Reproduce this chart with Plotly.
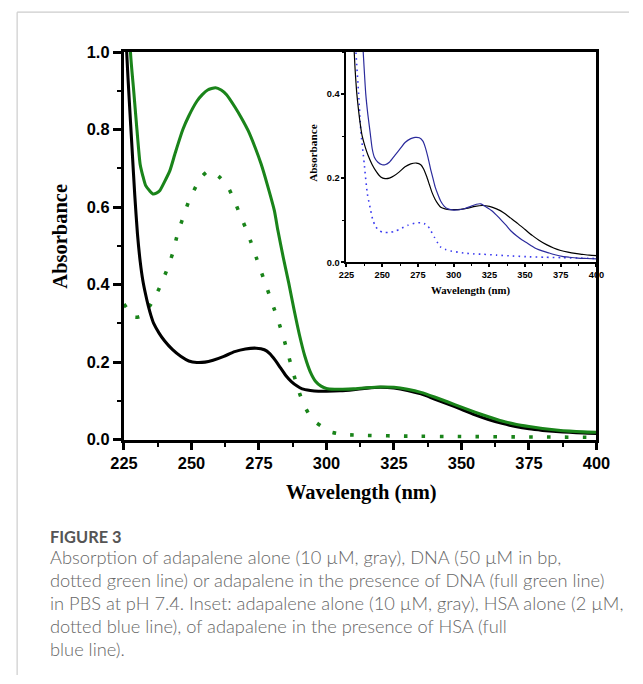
import plotly.graph_objects as go

# ---------------- data ----------------
# adapalene alone (black) - used in main chart and inset
ada_nm = [225, 226, 227, 228, 229, 230, 231, 232, 233, 234, 235, 236, 238, 240, 243, 246, 249, 252,
          255, 258, 262, 266, 270, 274, 277, 279, 281, 283, 285, 287, 289, 291, 294, 297, 300, 305,
          310, 315, 320, 325, 330, 335, 340, 345, 350, 355, 360, 365, 370, 375, 380, 385, 390, 395, 400]
ada_abs = [1.25, 1.0, 0.87, 0.75, 0.63, 0.53, 0.46, 0.41, 0.375, 0.345, 0.32, 0.30, 0.275, 0.255,
           0.232, 0.215, 0.203, 0.199, 0.2, 0.205, 0.215, 0.227, 0.234, 0.236, 0.232, 0.222, 0.205,
           0.185, 0.165, 0.15, 0.139, 0.131, 0.127, 0.125, 0.125, 0.126, 0.129, 0.133, 0.135, 0.133,
           0.127, 0.118, 0.105, 0.092, 0.078, 0.064, 0.052, 0.042, 0.034, 0.028, 0.024, 0.021, 0.019,
           0.017, 0.016]

# adapalene + DNA (full green)
adadna_nm = [225, 227.4, 228.6, 229.8, 231, 232, 233, 234.5, 235.7, 237, 238.3, 240, 242, 244, 246.8,
             249, 252, 254, 256, 258.9, 261, 263, 266.2, 268.5, 271, 273.5, 275.8, 278, 280.7, 282,
             284, 286, 288, 290, 292, 294, 296, 298, 300, 303, 306, 310, 315, 320, 325, 330, 335, 340,
             345, 350, 355, 360, 365, 370, 375, 380, 385, 390, 395, 400]
adadna_abs = [1.6, 1.0, 0.9, 0.8, 0.71, 0.68, 0.656, 0.642, 0.634, 0.636, 0.643, 0.665, 0.694, 0.74,
              0.8, 0.835, 0.873, 0.89, 0.902, 0.908, 0.902, 0.89, 0.857, 0.83, 0.797, 0.755, 0.711,
              0.66, 0.591, 0.54, 0.47, 0.405, 0.335, 0.27, 0.215, 0.175, 0.15, 0.138, 0.132, 0.13,
              0.13, 0.131, 0.134, 0.136, 0.135, 0.13, 0.122, 0.11, 0.097, 0.084, 0.071, 0.059, 0.048,
              0.04, 0.034, 0.029, 0.025, 0.022, 0.02, 0.019]

# DNA alone (dotted green)
dna_nm = [225, 227, 229, 231, 233, 235, 237, 239, 241, 243, 245, 247, 249, 252, 254, 256, 258, 260,
          262, 264, 266, 268, 270, 272, 274, 276, 278, 280, 282, 284, 286, 288, 290, 292, 294, 296,
          298, 301, 304, 307, 315, 330, 350, 375, 400]
dna_abs = [0.35, 0.33, 0.316, 0.318, 0.33, 0.35, 0.375, 0.405, 0.44, 0.48, 0.535, 0.575, 0.615, 0.658,
           0.68, 0.692, 0.69, 0.68, 0.665, 0.645, 0.615, 0.58, 0.547, 0.51, 0.47, 0.43, 0.39, 0.35,
           0.31, 0.265, 0.215, 0.165, 0.12, 0.085, 0.06, 0.045, 0.035, 0.021, 0.016, 0.013, 0.011,
           0.009, 0.008, 0.007, 0.006]

# adapalene + HSA (full blue, inset)
adahsa_nm = [231, 233, 235, 236.7, 238.5, 240, 241.5, 243, 244.5, 247, 250, 252, 255, 259, 263, 266,
             270, 273, 276, 278.5, 280, 282, 284, 285.5, 287, 289, 291, 293.5, 296, 300, 304, 308,
             312, 316, 319, 323, 327, 330, 334, 337, 340, 344, 348, 351, 355, 358, 362, 366, 371,
             376, 381, 387, 393, 400]
adahsa_abs = [1.0, 0.75, 0.6, 0.5, 0.4, 0.35, 0.31, 0.27, 0.25, 0.238, 0.232, 0.232, 0.238, 0.255,
              0.272, 0.285, 0.294, 0.297, 0.296, 0.288, 0.275, 0.25, 0.22, 0.2, 0.18, 0.161, 0.145,
              0.133, 0.127, 0.124, 0.125, 0.128, 0.133, 0.138, 0.139, 0.131, 0.122, 0.112, 0.098,
              0.087, 0.075, 0.063, 0.053, 0.047, 0.038, 0.032, 0.027, 0.023, 0.018, 0.014, 0.012,
              0.010, 0.009, 0.008]

# HSA alone (dotted blue, inset)
hsa_nm = [226, 228, 230, 231.6, 233.5, 235, 237.4, 239.6, 241.9, 243.5, 245.4, 248, 251, 255, 259,
          263, 268, 273, 277, 280, 282, 284, 286.5, 289, 291, 294, 298, 303, 307, 314, 321, 330,
          341, 353, 364, 376, 387, 400]
hsa_abs = [1.0, 0.75, 0.6, 0.5, 0.4, 0.314, 0.235, 0.163, 0.124, 0.1, 0.085, 0.075, 0.071, 0.071,
           0.074, 0.08, 0.088, 0.093, 0.094, 0.091, 0.086, 0.075, 0.06, 0.045, 0.036, 0.031, 0.027,
           0.024, 0.022, 0.02, 0.019, 0.017, 0.015, 0.013, 0.012, 0.011, 0.010, 0.009]

main_xticks = [225, 250, 275, 300, 325, 350, 375, 400]
main_yticks = [0.0, 0.2, 0.4, 0.6, 0.8, 1.0]
inset_yticks = [0.0, 0.2, 0.4]

caption_head = "FIGURE 3"
caption_lines = [
    "Absorption of adapalene alone (10 µM, gray), DNA (50 µM in bp,",
    "dotted green line) or adapalene in the presence of DNA (full green line)",
    "in PBS at pH 7.4. Inset: adapalene alone (10 µM, gray), HSA alone (2 µM,",
    "dotted blue line), of adapalene in the presence of HSA (full",
    "blue line).",
]

# ---------------- figure ----------------
# The page keeps the default 8px body margin and the photographed page is
# slightly scaled, so target positions are mapped into figure pixels.
W, H = 643, 684
OFF = 8
SX, SY = 659 / 643, 700 / 684
K = (SX + SY) / 2  # size scale for fonts / widths

GREEN = "#1a841a"
BLUE_FULL = "#2b2b9c"
BLUE_DOT = "#3b3bf0"


def px_x(p):
    return (p * SX - OFF) / W


def px_y(p):
    return 1 - (p * SY - OFF) / H


def sz(v):
    return round(v * K, 2)


fig = go.Figure()

# main chart
fig.add_trace(go.Scatter(x=dna_nm, y=dna_abs, mode="lines", xaxis="x", yaxis="y",
                         line=dict(color=GREEN, width=sz(3.5), dash="%.1fpx,%.1fpx" % (sz(3.5), sz(14)),
                                   shape="spline", smoothing=0.6)))
fig.add_trace(go.Scatter(x=ada_nm, y=ada_abs, mode="lines", xaxis="x", yaxis="y",
                         line=dict(color="black", width=sz(3), shape="spline", smoothing=0.6)))
fig.add_trace(go.Scatter(x=adadna_nm, y=adadna_abs, mode="lines", xaxis="x", yaxis="y",
                         line=dict(color=GREEN, width=sz(3), shape="spline", smoothing=0.6)))

# inset
fig.add_trace(go.Scatter(x=hsa_nm, y=hsa_abs, mode="lines", xaxis="x2", yaxis="y2",
                         line=dict(color=BLUE_DOT, width=1.6, dash="1.6px,4.1px", shape="spline", smoothing=0.6)))
fig.add_trace(go.Scatter(x=ada_nm, y=ada_abs, mode="lines", xaxis="x2", yaxis="y2",
                         line=dict(color="black", width=1.2, shape="spline", smoothing=0.6)))
fig.add_trace(go.Scatter(x=adahsa_nm, y=adahsa_abs, mode="lines", xaxis="x2", yaxis="y2",
                         line=dict(color=BLUE_FULL, width=1.2, shape="spline", smoothing=0.6)))

tickfont_main = dict(family="Liberation Sans", size=sz(16), color="black", weight="bold")
tickfont_inset = dict(family="Liberation Sans", size=sz(9), color="black", weight="bold")

fig.update_layout(
    width=W, height=H, autosize=False,
    margin=dict(l=0, r=0, t=0, b=0),
    paper_bgcolor="white", plot_bgcolor="rgba(0,0,0,0)",
    showlegend=False,
    xaxis=dict(domain=[px_x(120), px_x(602)], range=[225, 400], anchor="y",
               tickmode="array", tickvals=main_xticks, ticktext=[str(v) for v in main_xticks],
               ticks="outside", ticklen=sz(7), tickwidth=2.5, tickcolor="black",
               showline=True, linewidth=3, linecolor="black", mirror=True,
               showgrid=False, zeroline=False, tickfont=tickfont_main,
               minor=dict(dtick=12.5, tick0=225, ticks="outside", ticklen=4, tickwidth=2, tickcolor="black")),
    yaxis=dict(domain=[px_y(440), px_y(51)], range=[0, 1.0], anchor="x",
               tickmode="array", tickvals=main_yticks, ticktext=["%.1f" % v for v in main_yticks],
               ticks="outside", ticklen=sz(8), tickwidth=2.5, tickcolor="black",
               showline=True, linewidth=3, linecolor="black", mirror=True,
               showgrid=False, zeroline=False, tickfont=tickfont_main,
               minor=dict(dtick=0.1, tick0=0, ticks="outside", ticklen=4, tickwidth=2, tickcolor="black")),
    xaxis2=dict(domain=[px_x(347), px_x(602)], range=[225, 400], anchor="y2",
                tickmode="array", tickvals=main_xticks, ticktext=[str(v) for v in main_xticks],
                ticks="outside", ticklen=3, tickwidth=1.5, tickcolor="black",
                showline=True, linewidth=2, linecolor="black", mirror=False,
                showgrid=False, zeroline=False, tickfont=tickfont_inset,
                minor=dict(dtick=12.5, tick0=225, ticks="outside", ticklen=2, tickwidth=1, tickcolor="black")),
    yaxis2=dict(domain=[px_y(262), px_y(51)], range=[0, 0.5], anchor="x2",
                tickmode="array", tickvals=inset_yticks, ticktext=["%.1f" % v for v in inset_yticks],
                ticks="outside", ticklen=3, tickwidth=1.5, tickcolor="black",
                showline=True, linewidth=2, linecolor="black", mirror=False,
                showgrid=False, zeroline=False, tickfont=tickfont_inset,
                minor=dict(dtick=0.1, tick0=0, ticks="outside", ticklen=2, tickwidth=1, tickcolor="black")),
)

serif_b = dict(family="Liberation Serif", color="black", weight="bold")
ann = []
ann.append(dict(text="Wavelength (nm)", x=px_x(362), y=px_y(493), xref="paper", yref="paper",
                showarrow=False, xanchor="center", yanchor="middle", font=dict(size=sz(20), **serif_b)))
ann.append(dict(text="Absorbance", x=px_x(55), y=px_y(236), xref="paper", yref="paper",
                showarrow=False, xanchor="center", yanchor="middle", textangle=-90,
                font=dict(size=sz(20), **serif_b)))
ann.append(dict(text="Wavelength (nm)", x=px_x(474), y=px_y(290.5), xref="paper", yref="paper",
                showarrow=False, xanchor="center", yanchor="middle", font=dict(size=sz(10.5), **serif_b)))
ann.append(dict(text="Absorbance", x=px_x(313), y=px_y(152), xref="paper", yref="paper",
                showarrow=False, xanchor="center", yanchor="middle", textangle=-90,
                font=dict(size=sz(11), **serif_b)))
ann.append(dict(text=caption_head, x=px_x(42), y=px_y(537), xref="paper", yref="paper",
                showarrow=False, xanchor="left", yanchor="middle",
                font=dict(family="Lato", size=sz(16), color="#555555", weight="bold")))
for i, line in enumerate(caption_lines):
    ann.append(dict(text=line, x=px_x(42), y=px_y(558 + 23 * i), xref="paper", yref="paper",
                    showarrow=False, xanchor="left", yanchor="middle",
                    font=dict(family="Lato", size=sz(17.85), color="#666666", weight=300)))
fig.update_layout(annotations=ann)

fig.update_layout(shapes=[
    dict(type="line", xref="paper", yref="paper", x0=px_x(11), x1=1, y0=px_y(11), y1=px_y(11),
         line=dict(color="#cccccc", width=1.2)),
    dict(type="line", xref="paper", yref="paper", x0=px_x(11), x1=px_x(11), y0=px_y(11), y1=0,
         line=dict(color="#cccccc", width=1.2)),
])

fig.write_html("out.html")
